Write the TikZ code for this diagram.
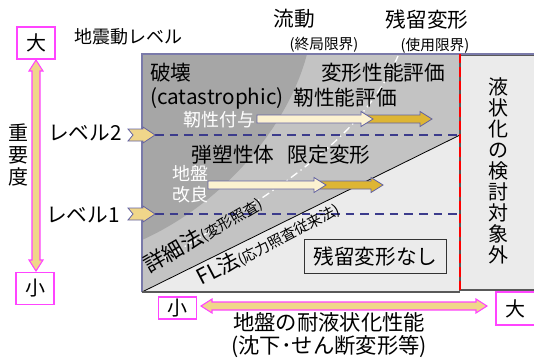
\documentclass[tikz,border=0pt]{standalone}
\usepackage{fontspec}
\setmainfont{Noto Sans CJK JP}
\definecolor{dk}{HTML}{A6A6A6}
\definecolor{md}{HTML}{C3C3C3}
\definecolor{lt}{HTML}{EBEBEB}
\definecolor{frame}{HTML}{7A7AAA}
\definecolor{navy}{HTML}{3C3C8C}
\definecolor{cream}{HTML}{FCF2D0}
\definecolor{gold}{HTML}{DDB534}
\definecolor{ylw}{HTML}{F0D68A}
\definecolor{pink}{HTML}{FF44FF}
\newcommand{\harrow}[4]{\filldraw[fill=#4, draw=navy!80, line width=0.6pt] (#1,{#3-4}) -- ({#2-12},{#3-4}) -- ({#2-12},{#3-7.5}) -- (#2,#3) -- ({#2-12},{#3+7.5}) -- ({#2-12},{#3+4}) -- (#1,{#3+4}) -- cycle;}
\newcommand{\levarrow}[1]{\filldraw[fill=ylw, draw=navy!80, line width=0.6pt] (128,{#1-6}) -- (143,{#1-6}) -- (143,{#1-8}) -- (155,#1) -- (143,{#1+8}) -- (143,{#1+6}) -- (128,{#1+6}) -- (133,#1) -- cycle;}
\begin{document}
\begin{tikzpicture}[x=0.75pt,y=-0.75pt,
  lbl/.style={inner sep=0pt, font=\fontsize{15.5}{18}\selectfont},
  wlbl/.style={inner sep=0pt, text=white, font=\fontsize{13.5}{16}\selectfont},
  sm/.style={inner sep=0pt, font=\fontsize{11}{13}\selectfont},
  pinkbox/.style={draw=pink, line width=0.9pt, fill=white, inner sep=0pt, font=\fontsize{15}{18}\selectfont},
  dashnavy/.style={navy, line width=0.9pt, dash pattern=on 6.5pt off 4.5pt}]
\useasboundingbox (0,0) rectangle (534,361);
% regions
\fill[md] (142,54) rectangle (460,292);
\fill[lt] (142,292) -- (460,135) -- (460,292) -- cycle;
\fill[dk] (142,54) -- (307,54) .. controls (290,120) and (230,200) .. (142,240) -- cycle;
\draw[white, line width=1pt, dash pattern=on 6pt off 3pt on 1pt off 3pt] (398,56) .. controls (365,130) and (300,180) .. (148,268);
\draw[black, line width=0.6pt] (142,292) -- (460,135);
\draw[frame, line width=0.8pt] (142,292) -- (142,54) -- (460,54);
\draw[gray!70!black, line width=0.8pt] (142,292) -- (460,292);
% right box
\filldraw[fill=lt, draw=gray!70!black, line width=0.8pt] (460,55) rectangle (545,290);
\draw[frame, line width=0.8pt] (460,54) -- (545,54);
\draw[red, line width=1.4pt, dash pattern=on 7pt off 3pt] (460,54) -- (460,292);
% level lines
\draw[dashnavy] (155,135) -- (460,135);
\draw[dashnavy] (155,214) -- (460,214);
\levarrow{135}
\levarrow{214}
% inner arrows
\harrow{365}{432}{119}{gold}
\harrow{257}{373}{119}{cream}
\harrow{320}{383}{185}{gold}
\harrow{208}{326}{185}{cream}
% vertical importance arrow
\filldraw[fill=ylw, draw=pink, line width=0.8pt] (36,60) -- (43,71) -- (40,71) -- (40,260) -- (43,260) -- (36,271) -- (29,260) -- (32,260) -- (32,71) -- (29,71) -- cycle;
% horizontal arrow
\filldraw[fill=ylw, draw=pink, line width=0.8pt] (201,306) -- (212,299) -- (212,302) -- (476,302) -- (476,299) -- (487,306) -- (476,313) -- (476,310) -- (212,310) -- (212,313) -- cycle;
% pink boxes
\node[pinkbox, minimum width=28.5pt, minimum height=24pt] (dai1) at (36,43) {大};
\node[pinkbox, minimum width=28.5pt, minimum height=24.5pt] (sho1) at (35,288.5) {小};
\node[pinkbox, minimum width=29pt, minimum height=16.5pt] (sho2) at (177.5,308) {小};
\draw[pink, line width=0.9pt, fill=white] (496,292) rectangle (545,325);
\node[inner sep=0pt, font=\fontsize{15}{18}\selectfont] (dai2) at (515,308.5) {大};
% texts
\node[lbl, font=\fontsize{13.5}{16}\selectfont] (jishin) at (128,37) {地震動レベル};
\node[lbl] (ryudo) at (294,19) {流動};
\node[lbl] (zanryu) at (427,20) {残留変形};
\node[sm] (shukyoku) at (324,45) {(終局限界)};
\node[sm] (shiyo) at (435,46) {(使用限界)};
\node[lbl, align=center, font=\fontsize{15}{16.5}\selectfont] (juyo) at (18,155) {重\\要\\度};
\node[lbl, anchor=west] (hakai) at (150,73) {破壊};
\node[lbl, anchor=west] (cata) at (150,98) {(catastrophic)};
\node[lbl] (henkei) at (383,73) {変形性能評価};
\node[lbl] (jinsei) at (345,98) {靭性能評価};
\node[wlbl] (fuyo) at (219,120) {靭性付与};
\node[lbl] (dan) at (233,155) {弾塑性体};
\node[lbl] (gentei) at (329,155) {限定変形};
\node[wlbl] (jiban) at (190,173) {地盤};
\node[wlbl] (kairyo) at (190,195) {改良};
\node[lbl, anchor=east] (lv2) at (122,133) {レベル2};
\node[lbl, anchor=east] (lv1) at (120,215) {レベル1};
\node[inner sep=0pt, rotate=30] (shosai) at (203,234) {\fontsize{16}{18}\selectfont 詳細法\fontsize{11}{13}\selectfont (変形照査)};
\node[inner sep=0pt, rotate=27.5] (fl) at (268,243) {\fontsize{16}{18}\selectfont FL法\fontsize{11}{13}\selectfont (応力照査従来法)};
\node[lbl, draw=black!80, line width=0.8pt, fill=lt, minimum width=107pt, minimum height=26pt] (nashi) at (375.5,256.5) {残留変形なし};
\node[lbl, align=center, font=\fontsize{15}{15.75}\selectfont] (taisho) at (498,171) {液\\状\\化\\の\\検\\討\\対\\象\\外};
\node[lbl, font=\fontsize{16}{18}\selectfont] (taieki) at (329,322) {地盤の耐液状化性能};
\node[lbl, font=\fontsize{16}{18}\selectfont] (chinka) at (329,347) {(沈下･せん断変形等)};
\end{tikzpicture}
\end{document}
